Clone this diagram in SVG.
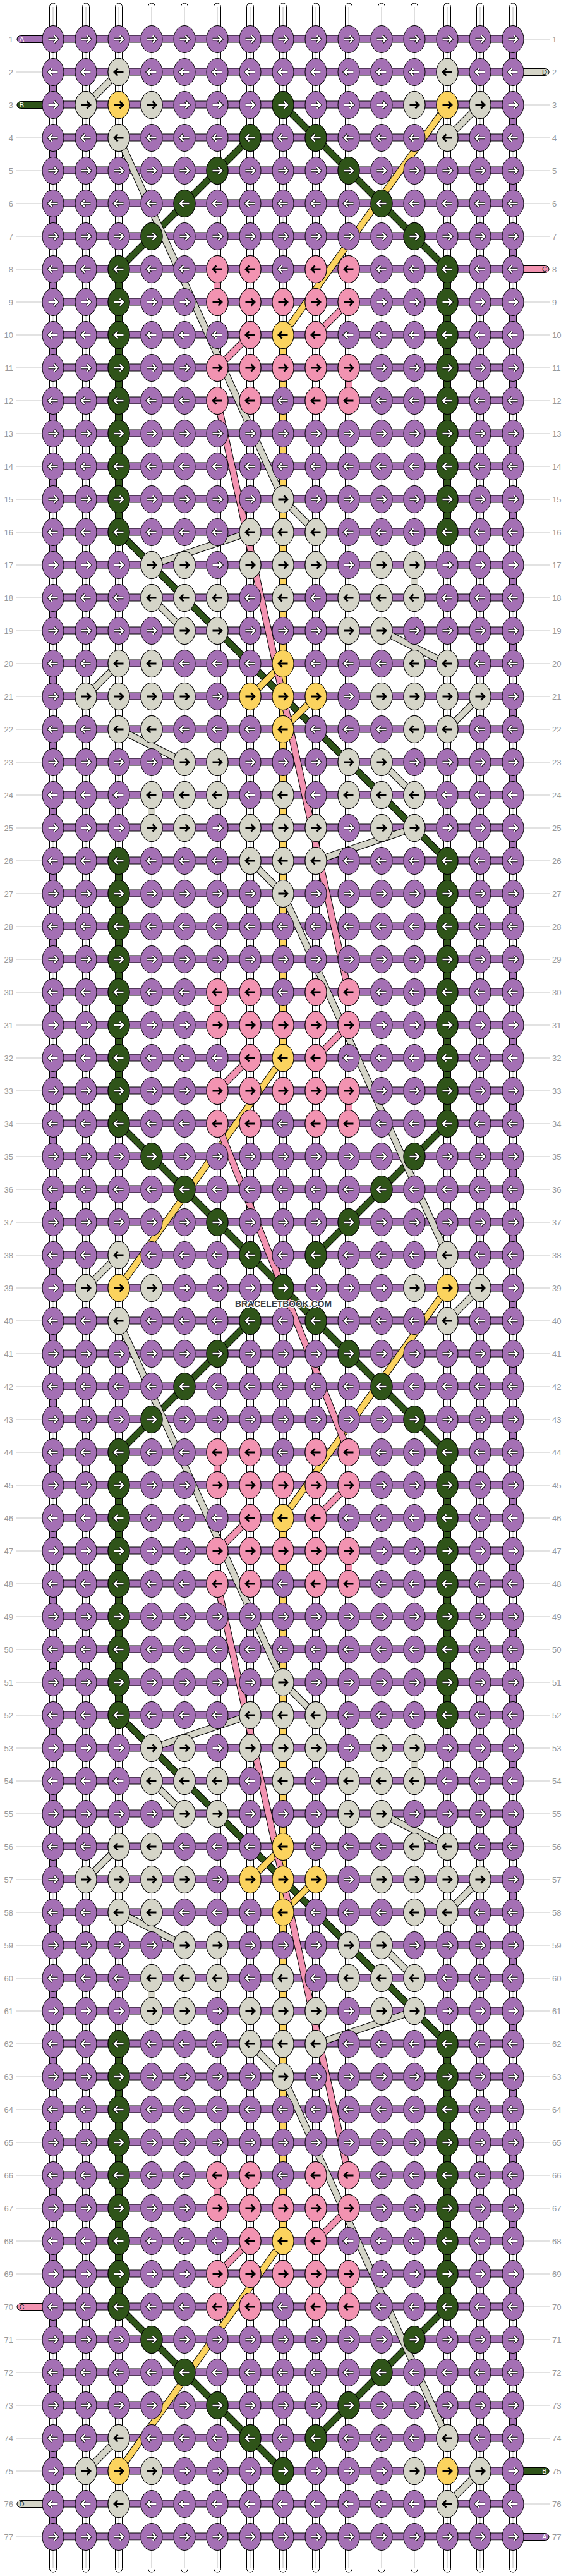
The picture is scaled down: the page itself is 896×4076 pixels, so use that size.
<svg xmlns="http://www.w3.org/2000/svg" width="896" height="4076" viewBox="0 0 896 4076">
<style>
.k{stroke:#000;stroke-width:1}
.P{fill:#a470b4}.G{fill:#2f5419}.L{fill:#d5d5c8}.Y{fill:#fbd35e}.K{fill:#f293b1}
.ao{fill:none;stroke:#000;stroke-width:4.4}
.aw{fill:none;stroke:#fff;stroke-width:2.4}
.ab{fill:none;stroke:#000;stroke-width:2.8}
.vs{fill:#fff;stroke:#000;stroke-width:1}
.vc{fill:none;stroke:#c8c8c8;stroke-width:1.2}
.o{stroke:#000;stroke-width:11}
.cG{stroke:#2f5419;stroke-width:9}.cL{stroke:#d5d5c8;stroke-width:9}.cY{stroke:#fbd35e;stroke-width:9}.cK{stroke:#f293b1;stroke-width:9}
.num{font-family:"Liberation Sans",Arial,sans-serif;font-size:13px;fill:#999}
.sl{font-family:"Liberation Sans",Arial,sans-serif;font-size:11px;text-anchor:middle}
.wm{font-family:"Liberation Sans",Arial,sans-serif;font-weight:bold;font-size:14px;fill:#3d3d3d;stroke:#fff;stroke-width:2;paint-order:stroke;text-anchor:middle}
</style>
<defs>
<path id="aR" d="M-7.5,0H6M1.5,-5.5L7,0L1.5,5.5"/>
<path id="aL" d="M7.5,0H-6M-1.5,-5.5L-7,0L-1.5,5.5"/>
<g id="PR"><ellipse class="k P" rx="17" ry="21.5"/><use href="#aR" class="ao"/><use href="#aR" class="aw"/></g>
<g id="PL"><ellipse class="k P" rx="17" ry="21.5"/><use href="#aL" class="ao"/><use href="#aL" class="aw"/></g>
<g id="GR"><ellipse class="k G" rx="17" ry="21.5"/><use href="#aR" class="ao"/><use href="#aR" class="aw"/></g>
<g id="GL"><ellipse class="k G" rx="17" ry="21.5"/><use href="#aL" class="ao"/><use href="#aL" class="aw"/></g>
<g id="LR"><ellipse class="k L" rx="17" ry="21.5"/><use href="#aR" class="ab"/></g>
<g id="LL"><ellipse class="k L" rx="17" ry="21.5"/><use href="#aL" class="ab"/></g>
<g id="YR"><ellipse class="k Y" rx="17" ry="21.5"/><use href="#aR" class="ab"/></g>
<g id="YL"><ellipse class="k Y" rx="17" ry="21.5"/><use href="#aL" class="ab"/></g>
<g id="KR"><ellipse class="k K" rx="17" ry="21.5"/><use href="#aR" class="ab"/></g>
<g id="KL"><ellipse class="k K" rx="17" ry="21.5"/><use href="#aL" class="ab"/></g>
<g id="bR"><use href="#PR" x="84"/><use href="#PR" x="136"/><use href="#PR" x="188"/><use href="#PR" x="240"/><use href="#PR" x="292"/><use href="#PR" x="344"/><use href="#PR" x="396"/><use href="#PR" x="448"/><use href="#PR" x="500"/><use href="#PR" x="552"/><use href="#PR" x="604"/><use href="#PR" x="656"/><use href="#PR" x="708"/><use href="#PR" x="760"/><use href="#PR" x="812"/></g>
<g id="bL"><use href="#PL" x="84"/><use href="#PL" x="136"/><use href="#PL" x="188"/><use href="#PL" x="240"/><use href="#PL" x="292"/><use href="#PL" x="344"/><use href="#PL" x="396"/><use href="#PL" x="448"/><use href="#PL" x="500"/><use href="#PL" x="552"/><use href="#PL" x="604"/><use href="#PL" x="656"/><use href="#PL" x="708"/><use href="#PL" x="760"/><use href="#PL" x="812"/></g>
<g id="T2"><use href="#bL"/><use href="#LL" x="188"/><use href="#LL" x="708"/></g>
<g id="T3"><use href="#bR"/><use href="#LR" x="136"/><use href="#YR" x="188"/><use href="#LR" x="240"/><use href="#GR" x="448"/><use href="#LR" x="656"/><use href="#YR" x="708"/><use href="#LR" x="760"/></g>
<g id="T4"><use href="#bL"/><use href="#LL" x="188"/><use href="#GL" x="396"/><use href="#GL" x="500"/><use href="#LL" x="708"/></g>
<g id="T5"><use href="#bR"/><use href="#GR" x="344"/><use href="#GR" x="552"/></g>
<g id="T6"><use href="#bL"/><use href="#GL" x="292"/><use href="#GL" x="604"/></g>
<g id="T7"><use href="#bR"/><use href="#GR" x="240"/><use href="#GR" x="656"/></g>
<g id="T8"><use href="#bL"/><use href="#GL" x="188"/><use href="#KL" x="344"/><use href="#KL" x="396"/><use href="#KL" x="500"/><use href="#KL" x="552"/><use href="#GL" x="708"/></g>
<g id="T9"><use href="#bR"/><use href="#GR" x="188"/><use href="#KR" x="344"/><use href="#KR" x="396"/><use href="#KR" x="448"/><use href="#KR" x="500"/><use href="#KR" x="552"/><use href="#GR" x="708"/></g>
<g id="T10"><use href="#bL"/><use href="#GL" x="188"/><use href="#KL" x="396"/><use href="#YL" x="448"/><use href="#KL" x="500"/><use href="#GL" x="708"/></g>
<g id="T13"><use href="#bR"/><use href="#GR" x="188"/><use href="#GR" x="708"/></g>
<g id="T14"><use href="#bL"/><use href="#GL" x="188"/><use href="#GL" x="708"/></g>
<g id="T15"><use href="#bR"/><use href="#GR" x="188"/><use href="#LR" x="448"/><use href="#GR" x="708"/></g>
<g id="T16"><use href="#bL"/><use href="#GL" x="188"/><use href="#LL" x="396"/><use href="#LL" x="448"/><use href="#LL" x="500"/><use href="#GL" x="708"/></g>
<g id="T17"><use href="#bR"/><use href="#LR" x="240"/><use href="#LR" x="292"/><use href="#LR" x="396"/><use href="#LR" x="448"/><use href="#LR" x="500"/><use href="#LR" x="604"/><use href="#LR" x="656"/></g>
<g id="T18"><use href="#bL"/><use href="#LL" x="240"/><use href="#LL" x="292"/><use href="#LL" x="344"/><use href="#LL" x="448"/><use href="#LL" x="552"/><use href="#LL" x="604"/><use href="#LL" x="656"/></g>
<g id="T19"><use href="#bR"/><use href="#LR" x="292"/><use href="#LR" x="344"/><use href="#LR" x="552"/><use href="#LR" x="604"/></g>
<g id="T20"><use href="#bL"/><use href="#LL" x="188"/><use href="#LL" x="240"/><use href="#YL" x="448"/><use href="#LL" x="656"/><use href="#LL" x="708"/></g>
<g id="T21"><use href="#bR"/><use href="#LR" x="136"/><use href="#LR" x="188"/><use href="#LR" x="240"/><use href="#LR" x="292"/><use href="#YR" x="396"/><use href="#YR" x="448"/><use href="#YR" x="500"/><use href="#LR" x="604"/><use href="#LR" x="656"/><use href="#LR" x="708"/><use href="#LR" x="760"/></g>
<g id="st"><rect class="vs" x="-5.5" y="5" width="11" height="60" rx="5.5"/><path class="vc" d="M0,11V62"/></g>
<g id="vl"><rect class="vs" x="-5.5" y="62" width="11" height="3952"/><path class="vc" d="M0,62V4014"/></g>
<pattern id="t1" patternUnits="userSpaceOnUse" x="78.5" y="62" width="11" height="104"><rect width="11" height="52" fill="#fff"/><path d="M5.5,0V52" stroke="#c8c8c8" stroke-width="1.2"/><rect y="52" width="11" height="52" fill="#a470b4"/></pattern>
<pattern id="t15" patternUnits="userSpaceOnUse" x="806.5" y="62" width="11" height="104"><rect width="11" height="52" fill="#a470b4"/><rect y="52" width="11" height="52" fill="#fff"/><path d="M5.5,52V104" stroke="#c8c8c8" stroke-width="1.2"/></pattern>
<pattern id="hb" patternUnits="userSpaceOnUse" x="0" y="55.5" width="896" height="52"><rect y="0.5" width="896" height="11" fill="#a470b4" stroke="#000"/></pattern>
<pattern id="gl" patternUnits="userSpaceOnUse" x="0" y="61.5" width="896" height="52"><rect width="896" height="1" fill="#c4c4c4"/></pattern>
<g id="nums" class="num"><text y="66.5">1</text><text y="118.5">2</text><text y="170.5">3</text><text y="222.5">4</text><text y="274.5">5</text><text y="326.5">6</text><text y="378.5">7</text><text y="430.5">8</text><text y="482.5">9</text><text y="534.5">10</text><text y="586.5">11</text><text y="638.5">12</text><text y="690.5">13</text><text y="742.5">14</text><text y="794.5">15</text><text y="846.5">16</text><text y="898.5">17</text><text y="950.5">18</text><text y="1002.5">19</text><text y="1054.5">20</text><text y="1106.5">21</text><text y="1158.5">22</text><text y="1210.5">23</text><text y="1262.5">24</text><text y="1314.5">25</text><text y="1366.5">26</text><text y="1418.5">27</text><text y="1470.5">28</text><text y="1522.5">29</text><text y="1574.5">30</text><text y="1626.5">31</text><text y="1678.5">32</text><text y="1730.5">33</text><text y="1782.5">34</text><text y="1834.5">35</text><text y="1886.5">36</text><text y="1938.5">37</text><text y="1990.5">38</text><text y="2042.5">39</text><text y="2094.5">40</text><text y="2146.5">41</text><text y="2198.5">42</text><text y="2250.5">43</text><text y="2302.5">44</text><text y="2354.5">45</text><text y="2406.5">46</text><text y="2458.5">47</text><text y="2510.5">48</text><text y="2562.5">49</text><text y="2614.5">50</text><text y="2666.5">51</text><text y="2718.5">52</text><text y="2770.5">53</text><text y="2822.5">54</text><text y="2874.5">55</text><text y="2926.5">56</text><text y="2978.5">57</text><text y="3030.5">58</text><text y="3082.5">59</text><text y="3134.5">60</text><text y="3186.5">61</text><text y="3238.5">62</text><text y="3290.5">63</text><text y="3342.5">64</text><text y="3394.5">65</text><text y="3446.5">66</text><text y="3498.5">67</text><text y="3550.5">68</text><text y="3602.5">69</text><text y="3654.5">70</text><text y="3706.5">71</text><text y="3758.5">72</text><text y="3810.5">73</text><text y="3862.5">74</text><text y="3914.5">75</text><text y="3966.5">76</text><text y="4018.5">77</text></g>
</defs>
<rect width="896" height="4076" fill="#fff"/>
<g id="guides"><rect x="26" y="61" width="41" height="3954" fill="url(#gl)"/><rect x="829" y="61" width="41" height="3954" fill="url(#gl)"/></g>
<g id="strands">
<g id="sticks"><use href="#st" x="84"/><use href="#st" x="136"/><use href="#st" x="188"/><use href="#st" x="240"/><use href="#st" x="292"/><use href="#st" x="344"/><use href="#st" x="396"/><use href="#st" x="448"/><use href="#st" x="500"/><use href="#st" x="552"/><use href="#st" x="604"/><use href="#st" x="656"/><use href="#st" x="708"/><use href="#st" x="760"/><use href="#st" x="812"/></g>
<use href="#sticks" transform="matrix(1 0 0 -1 0 4075)"/>
<use href="#vl" x="136"/><use href="#vl" x="188"/><use href="#vl" x="240"/><use href="#vl" x="292"/><use href="#vl" x="344"/><use href="#vl" x="396"/><use href="#vl" x="448"/><use href="#vl" x="500"/><use href="#vl" x="552"/><use href="#vl" x="604"/><use href="#vl" x="656"/><use href="#vl" x="708"/><use href="#vl" x="760"/>
<rect x="78.5" y="62" width="11" height="3952" fill="url(#t1)" stroke="#000"/>
<rect x="806.5" y="62" width="11" height="3952" fill="url(#t15)" stroke="#000"/>
<g id="segs">
<rect class="k G" x="182.5" y="426" width="11" height="416"/>
<rect class="k G" x="702.5" y="426" width="11" height="416"/>
<rect class="k G" x="182.5" y="1362" width="11" height="416"/>
<rect class="k G" x="702.5" y="1362" width="11" height="416"/>
<rect class="k Y" x="442.5" y="530" width="11" height="1144"/>
<rect class="k K" x="338.5" y="426" width="11" height="52"/>
<rect class="k K" x="546.5" y="582" width="11" height="52"/>
<rect class="k K" x="338.5" y="1570" width="11" height="52"/>
<rect class="k K" x="546.5" y="1726" width="11" height="52"/>
<rect class="k L" x="650.5" y="894" width="11" height="52"/>
<rect class="k L" x="234.5" y="1258" width="11" height="52"/>
</g>
<use href="#segs" y="1872"/>
<rect x="84" y="55.5" width="728" height="3964" fill="url(#hb)"/>
</g>
<g id="stubs">
<rect class="k P" x="27" y="56.5" width="60" height="11" rx="5.5"/><text class="sl" x="34.5" y="66" fill="#fff">A</text>
<rect class="k G" x="27" y="160.5" width="60" height="11" rx="5.5"/><text class="sl" x="34.5" y="170" fill="#fff">B</text>
<rect class="k K" x="27" y="3644.5" width="60" height="11" rx="5.5"/><text class="sl" x="34.5" y="3654" fill="#222">C</text>
<rect class="k L" x="27" y="3956.5" width="60" height="11" rx="5.5"/><text class="sl" x="34.5" y="3966" fill="#222">D</text>
<rect class="k L" x="809" y="108.5" width="60" height="11" rx="5.5"/><text class="sl" x="862" y="118" fill="#222">D</text>
<rect class="k K" x="809" y="420.5" width="60" height="11" rx="5.5"/><text class="sl" x="862" y="430" fill="#222">C</text>
<rect class="k G" x="809" y="3904.5" width="60" height="11" rx="5.5"/><text class="sl" x="862" y="3914" fill="#fff">B</text>
<rect class="k P" x="809" y="4008.5" width="60" height="11" rx="5.5"/><text class="sl" x="862" y="4018" fill="#fff">A</text>
</g>
<g id="connectors">
<g id="cp">
<line class="o" x1="448" y1="166" x2="708" y2="426"/><line class="cG" x1="448" y1="166" x2="708" y2="426"/>
<line class="o" x1="396" y1="218" x2="188" y2="426"/><line class="cG" x1="396" y1="218" x2="188" y2="426"/>
<line class="o" x1="188" y1="842" x2="708" y2="1362"/><line class="cG" x1="188" y1="842" x2="708" y2="1362"/>
<line class="o" x1="188" y1="1778" x2="448" y2="2038"/><line class="cG" x1="188" y1="1778" x2="448" y2="2038"/>
<line class="o" x1="708" y1="1778" x2="500" y2="1986"/><line class="cG" x1="708" y1="1778" x2="500" y2="1986"/>
<line class="o" x1="188" y1="114" x2="136" y2="166"/><line class="cL" x1="188" y1="114" x2="136" y2="166"/>
<line class="o" x1="760" y1="166" x2="708" y2="218"/><line class="cL" x1="760" y1="166" x2="708" y2="218"/>
<line class="o" x1="188" y1="218" x2="448" y2="790"/><line class="cL" x1="188" y1="218" x2="448" y2="790"/>
<line class="o" x1="448" y1="790" x2="500" y2="842"/><line class="cL" x1="448" y1="790" x2="500" y2="842"/>
<line class="o" x1="396" y1="842" x2="240" y2="894"/><line class="cL" x1="396" y1="842" x2="240" y2="894"/>
<line class="o" x1="240" y1="946" x2="292" y2="998"/><line class="cL" x1="240" y1="946" x2="292" y2="998"/>
<line class="o" x1="604" y1="998" x2="708" y2="1050"/><line class="cL" x1="604" y1="998" x2="708" y2="1050"/>
<line class="o" x1="188" y1="1050" x2="136" y2="1102"/><line class="cL" x1="188" y1="1050" x2="136" y2="1102"/>
<line class="o" x1="760" y1="1102" x2="708" y2="1154"/><line class="cL" x1="760" y1="1102" x2="708" y2="1154"/>
<line class="o" x1="188" y1="1154" x2="292" y2="1206"/><line class="cL" x1="188" y1="1154" x2="292" y2="1206"/>
<line class="o" x1="604" y1="1206" x2="656" y2="1258"/><line class="cL" x1="604" y1="1206" x2="656" y2="1258"/>
<line class="o" x1="656" y1="1310" x2="500" y2="1362"/><line class="cL" x1="656" y1="1310" x2="500" y2="1362"/>
<line class="o" x1="396" y1="1362" x2="448" y2="1414"/><line class="cL" x1="396" y1="1362" x2="448" y2="1414"/>
<line class="o" x1="448" y1="1414" x2="708" y2="1986"/><line class="cL" x1="448" y1="1414" x2="708" y2="1986"/>
<line class="o" x1="708" y1="166" x2="448" y2="530"/><line class="cY" x1="708" y1="166" x2="448" y2="530"/>
<line class="o" x1="448" y1="1050" x2="396" y2="1102"/><line class="cY" x1="448" y1="1050" x2="396" y2="1102"/>
<line class="o" x1="500" y1="1102" x2="448" y2="1154"/><line class="cY" x1="500" y1="1102" x2="448" y2="1154"/>
<line class="o" x1="448" y1="1674" x2="188" y2="2038"/><line class="cY" x1="448" y1="1674" x2="188" y2="2038"/>
<line class="o" x1="552" y1="478" x2="500" y2="530"/><line class="cK" x1="552" y1="478" x2="500" y2="530"/>
<line class="o" x1="396" y1="530" x2="344" y2="582"/><line class="cK" x1="396" y1="530" x2="344" y2="582"/>
<line class="o" x1="344" y1="634" x2="552" y2="1570"/><line class="cK" x1="344" y1="634" x2="552" y2="1570"/>
<line class="o" x1="552" y1="1622" x2="500" y2="1674"/><line class="cK" x1="552" y1="1622" x2="500" y2="1674"/>
<line class="o" x1="396" y1="1674" x2="344" y2="1726"/><line class="cK" x1="396" y1="1674" x2="344" y2="1726"/>
</g>
<use href="#cp" y="1872"/>
<line class="o" x1="188" y1="3858" x2="136" y2="3910"/><line class="cL" x1="188" y1="3858" x2="136" y2="3910"/>
<line class="o" x1="760" y1="3910" x2="708" y2="3962"/><line class="cL" x1="760" y1="3910" x2="708" y2="3962"/>
<line class="o" x1="344" y1="1778" x2="552" y2="2298"/><line class="cK" x1="344" y1="1778" x2="552" y2="2298"/>
</g>
<g id="knots">
<g id="row1"><use href="#bR" y="62"/></g>
<g id="row2"><use href="#T2" y="114"/></g>
<g id="row3"><use href="#T3" y="166"/></g>
<g id="row4"><use href="#T4" y="218"/></g>
<g id="row5"><use href="#T5" y="270"/></g>
<g id="row6"><use href="#T6" y="322"/></g>
<g id="row7"><use href="#T7" y="374"/></g>
<g id="row8"><use href="#T8" y="426"/></g>
<g id="row9"><use href="#T9" y="478"/></g>
<g id="row10"><use href="#T10" y="530"/></g>
<g id="row11"><use href="#T9" y="582"/></g>
<g id="row12"><use href="#T8" y="634"/></g>
<g id="row13"><use href="#T13" y="686"/></g>
<g id="row14"><use href="#T14" y="738"/></g>
<g id="row15"><use href="#T15" y="790"/></g>
<g id="row16"><use href="#T16" y="842"/></g>
<g id="row17"><use href="#T17" y="894"/></g>
<g id="row18"><use href="#T18" y="946"/></g>
<g id="row19"><use href="#T19" y="998"/></g>
<g id="row20"><use href="#T20" y="1050"/></g>
<g id="row21"><use href="#T21" y="1102"/></g>
<g id="row22"><use href="#T20" y="1154"/></g>
<g id="row23"><use href="#T19" y="1206"/></g>
<g id="row24"><use href="#T18" y="1258"/></g>
<g id="row25"><use href="#T17" y="1310"/></g>
<g id="row26"><use href="#T16" y="1362"/></g>
<g id="row27"><use href="#T15" y="1414"/></g>
<g id="row28"><use href="#T14" y="1466"/></g>
<g id="row29"><use href="#T13" y="1518"/></g>
<g id="row30"><use href="#T8" y="1570"/></g>
<g id="row31"><use href="#T9" y="1622"/></g>
<g id="row32"><use href="#T10" y="1674"/></g>
<g id="row33"><use href="#T9" y="1726"/></g>
<g id="row34"><use href="#T8" y="1778"/></g>
<g id="row35"><use href="#T7" y="1830"/></g>
<g id="row36"><use href="#T6" y="1882"/></g>
<g id="row37"><use href="#T5" y="1934"/></g>
<g id="row38"><use href="#T4" y="1986"/></g>
<g id="row39"><use href="#T3" y="2038"/></g>
<g id="row40"><use href="#T4" y="2090"/></g>
<g id="row41"><use href="#T5" y="2142"/></g>
<g id="row42"><use href="#T6" y="2194"/></g>
<g id="row43"><use href="#T7" y="2246"/></g>
<g id="row44"><use href="#T8" y="2298"/></g>
<g id="row45"><use href="#T9" y="2350"/></g>
<g id="row46"><use href="#T10" y="2402"/></g>
<g id="row47"><use href="#T9" y="2454"/></g>
<g id="row48"><use href="#T8" y="2506"/></g>
<g id="row49"><use href="#T13" y="2558"/></g>
<g id="row50"><use href="#T14" y="2610"/></g>
<g id="row51"><use href="#T15" y="2662"/></g>
<g id="row52"><use href="#T16" y="2714"/></g>
<g id="row53"><use href="#T17" y="2766"/></g>
<g id="row54"><use href="#T18" y="2818"/></g>
<g id="row55"><use href="#T19" y="2870"/></g>
<g id="row56"><use href="#T20" y="2922"/></g>
<g id="row57"><use href="#T21" y="2974"/></g>
<g id="row58"><use href="#T20" y="3026"/></g>
<g id="row59"><use href="#T19" y="3078"/></g>
<g id="row60"><use href="#T18" y="3130"/></g>
<g id="row61"><use href="#T17" y="3182"/></g>
<g id="row62"><use href="#T16" y="3234"/></g>
<g id="row63"><use href="#T15" y="3286"/></g>
<g id="row64"><use href="#T14" y="3338"/></g>
<g id="row65"><use href="#T13" y="3390"/></g>
<g id="row66"><use href="#T8" y="3442"/></g>
<g id="row67"><use href="#T9" y="3494"/></g>
<g id="row68"><use href="#T10" y="3546"/></g>
<g id="row69"><use href="#T9" y="3598"/></g>
<g id="row70"><use href="#T8" y="3650"/></g>
<g id="row71"><use href="#T7" y="3702"/></g>
<g id="row72"><use href="#T6" y="3754"/></g>
<g id="row73"><use href="#T5" y="3806"/></g>
<g id="row74"><use href="#T4" y="3858"/></g>
<g id="row75"><use href="#T3" y="3910"/></g>
<g id="row76"><use href="#T2" y="3962"/></g>
<g id="row77"><use href="#bR" y="4014"/></g>
</g>
<g id="rownumbers">
<use href="#nums" x="21" text-anchor="end"/>
<use href="#nums" x="874" text-anchor="start"/>
</g>
<text class="wm" x="448.5" y="2068" textLength="153" lengthAdjust="spacingAndGlyphs">BRACELETBOOK.COM</text>
</svg>
